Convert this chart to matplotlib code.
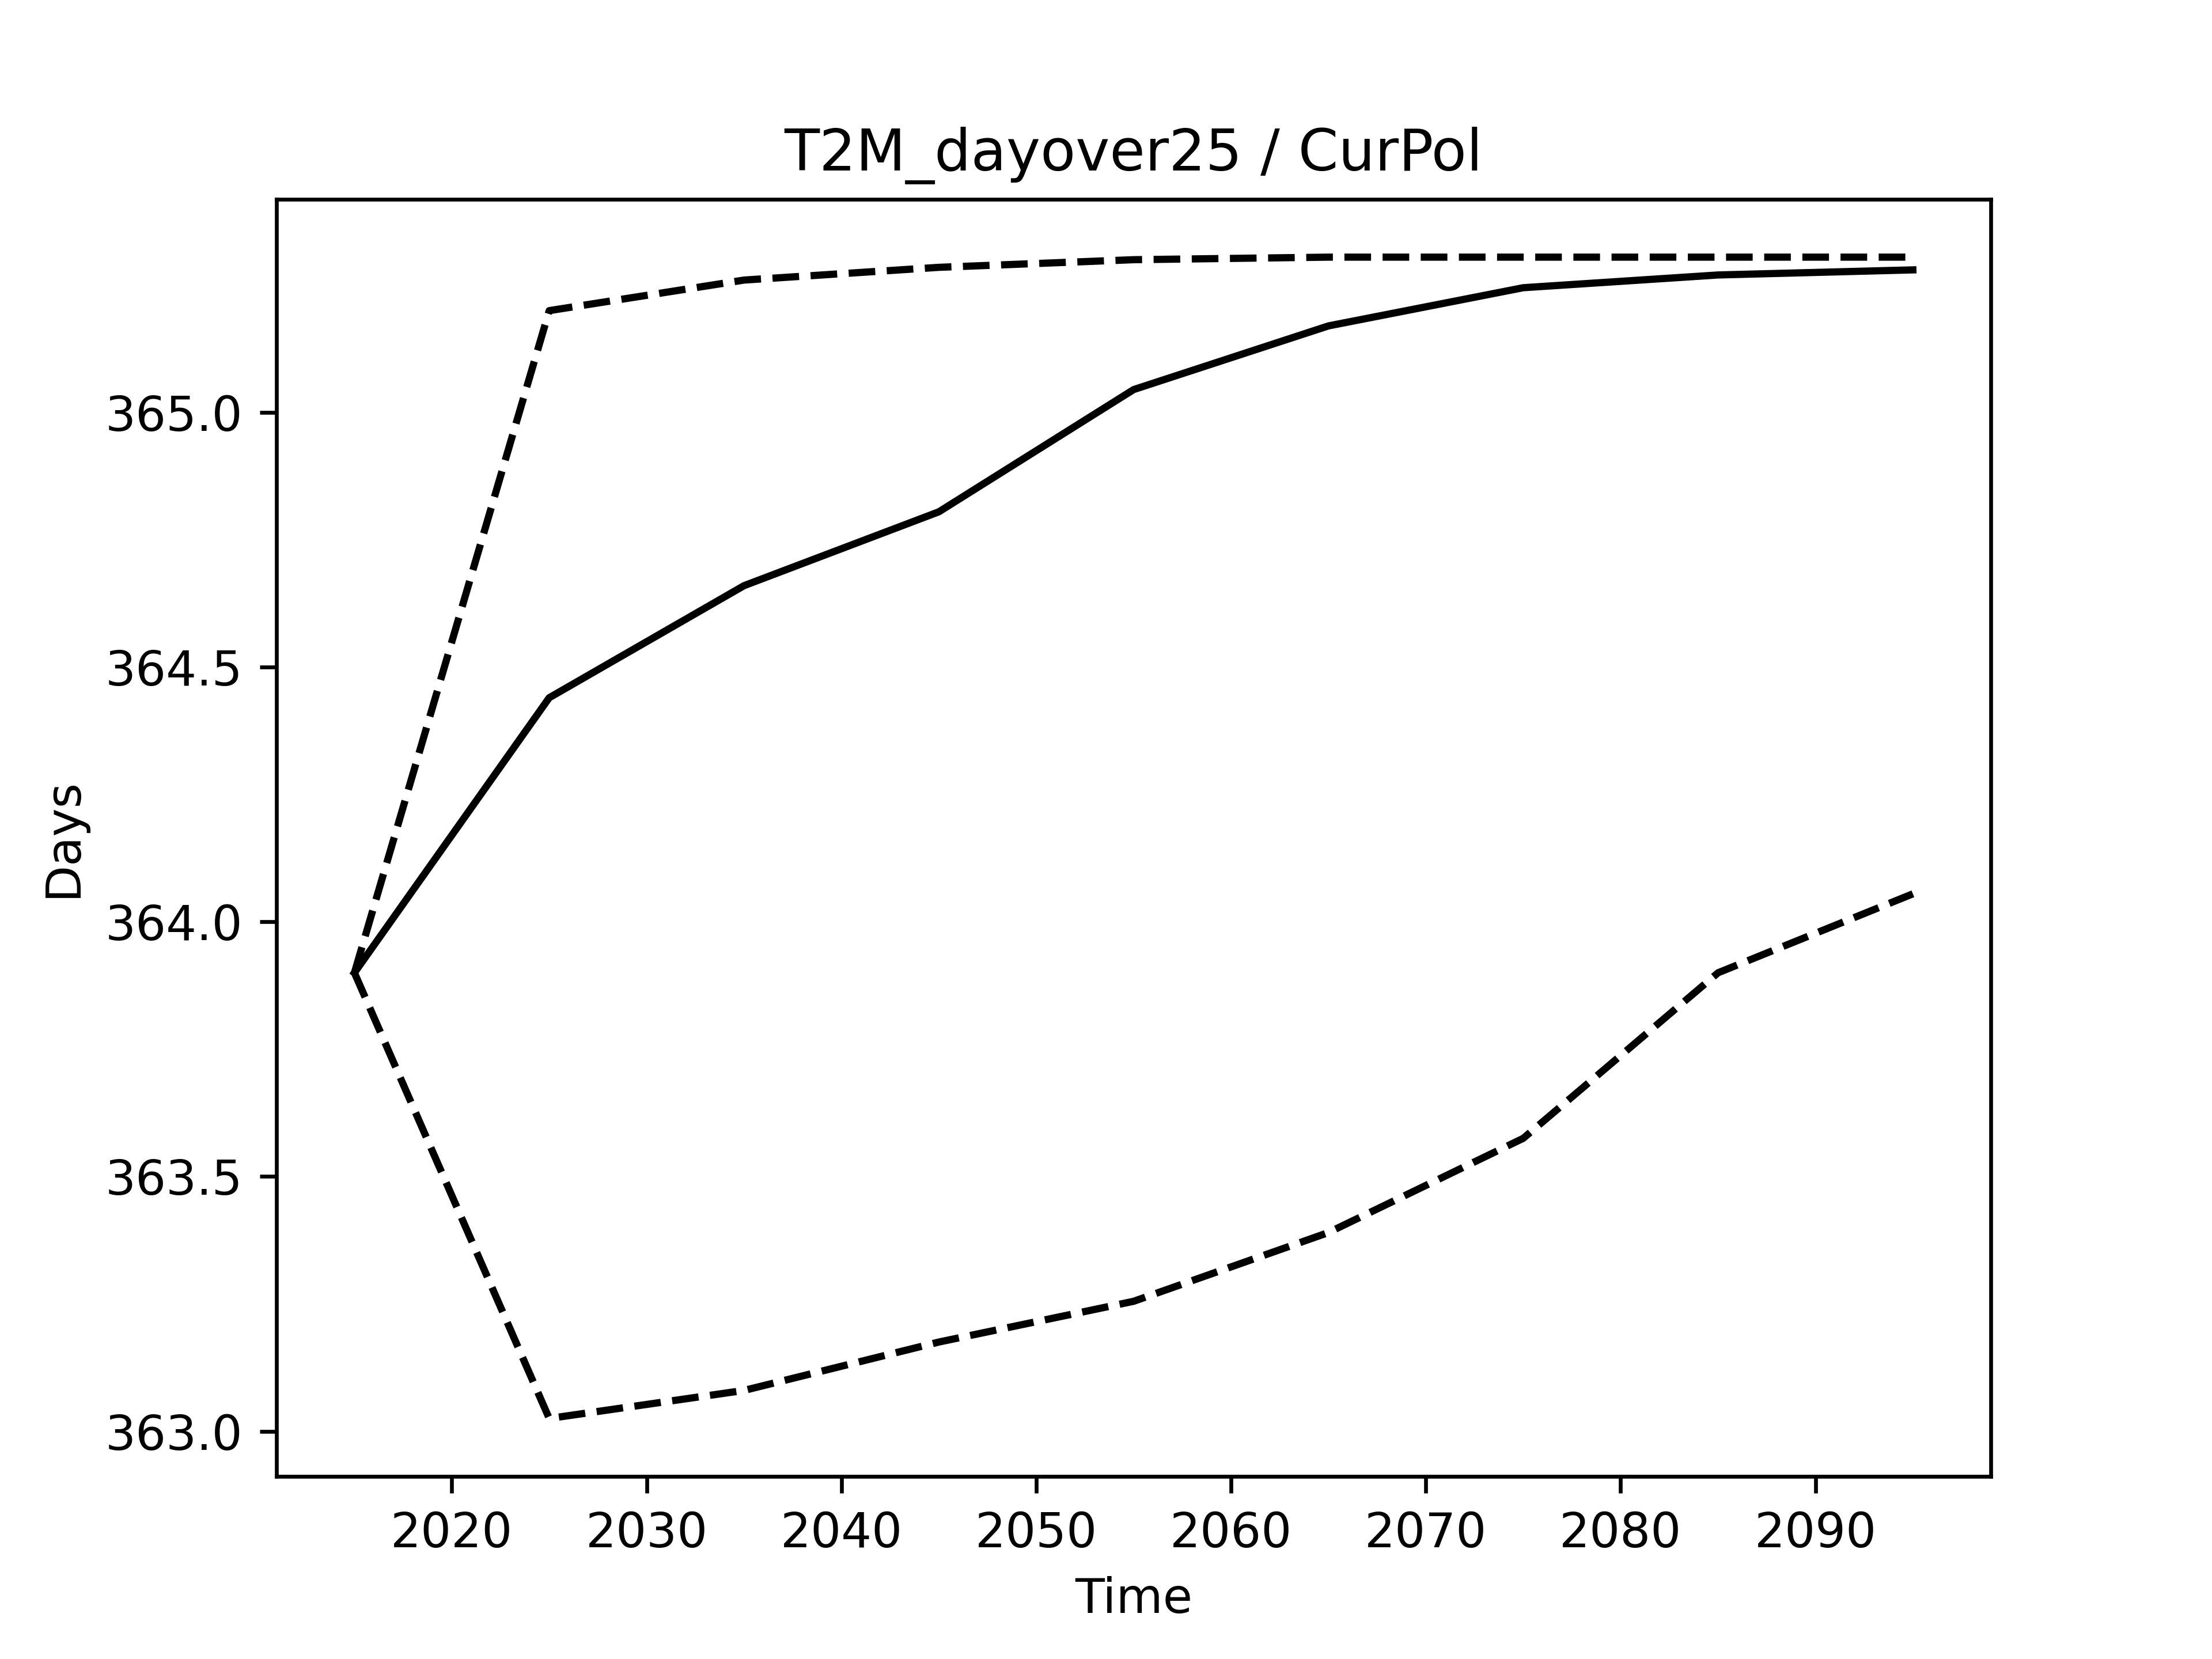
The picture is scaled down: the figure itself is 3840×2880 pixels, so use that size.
import numpy as np
import matplotlib.pyplot as plt

years = [2015, 2025, 2035, 2045, 2055, 2065, 2075, 2085, 2095]
mean = [363.90, 364.44, 364.66, 364.805, 365.045, 365.17, 365.245, 365.27, 365.28]
upper = [363.90, 365.20, 365.26, 365.285, 365.30, 365.305, 365.305, 365.305, 365.305]
lower = [363.90, 363.025, 363.08, 363.175, 363.255, 363.39, 363.575, 363.90, 364.055]

def main():
    fig, ax = plt.subplots(figsize=(6.4, 4.8))
    ax.plot(years, mean, color='black', linestyle='-')
    ax.plot(years, upper, color='black', linestyle='--')
    ax.plot(years, lower, color='black', linestyle='--')
    ax.set_title('T2M_dayover25 / CurPol')
    ax.set_xlabel('Time')
    ax.set_ylabel('Days')
    fig.savefig('out.png', dpi=600)

main()
